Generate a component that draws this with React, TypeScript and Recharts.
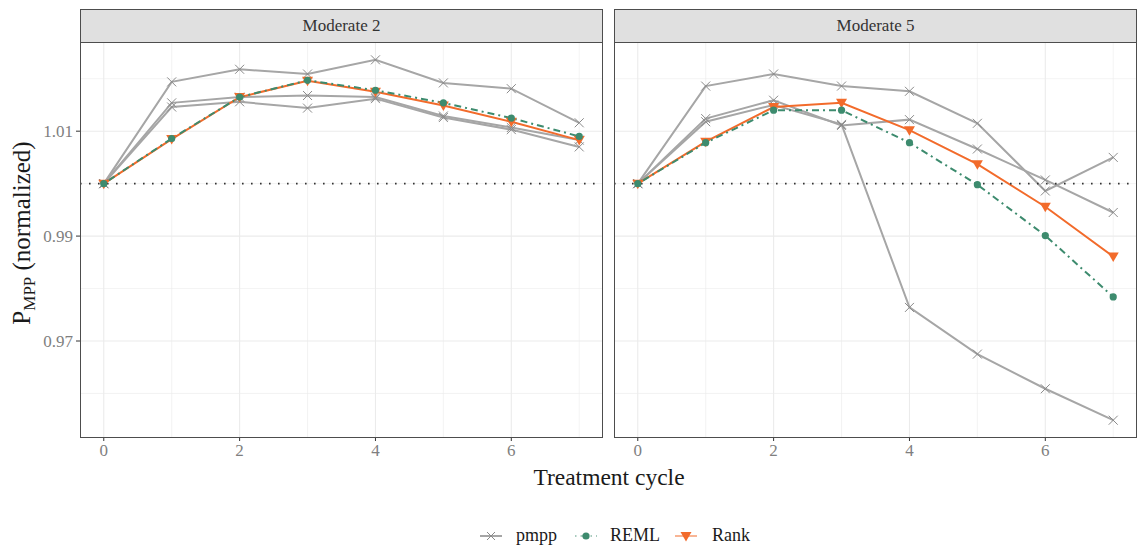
import React from "react";
import { LineChart, Line, XAxis, YAxis, ReferenceLine } from "recharts";

const cycles = [0, 1, 2, 3, 4, 5, 6, 7];
const panelTitles = ["Moderate 2", "Moderate 5"];
const xTicks = [0, 2, 4, 6];
const xMinor = [1, 3, 5, 7];
const yTicks = [0.97, 0.99, 1.01];
const yMinor = [0.96, 0.98, 1.0, 1.02];

const mod2Pmpp1 = [1.0, 1.0194, 1.0218, 1.0209, 1.0236, 1.0192, 1.0181, 1.0116];
const mod2Pmpp2 = [1.0, 1.0154, 1.0165, 1.0168, 1.0165, 1.0129, 1.0107, 1.0083];
const mod2Pmpp3 = [1.0, 1.0146, 1.0156, 1.0144, 1.0162, 1.0126, 1.0103, 1.007];
const mod2Reml = [1.0, 1.0086, 1.0165, 1.0197, 1.0178, 1.0154, 1.0125, 1.009];
const mod2Rank = [1.0, 1.0085, 1.0165, 1.0196, 1.0175, 1.0149, 1.0118, 1.0083];

const mod5Pmpp1 = [1.0, 1.0186, 1.0209, 1.0186, 1.0176, 1.0115, 0.9986, 1.005];
const mod5Pmpp2 = [1.0, 1.0124, 1.0159, 1.0111, 1.0122, 1.0066, 1.0007, 0.9945];
const mod5Pmpp3 = [1.0, 1.0118, 1.015, 1.0113, 0.9764, 0.9675, 0.9609, 0.9549];
const mod5Reml = [1.0, 1.0078, 1.014, 1.014, 1.0078, 0.9998, 0.9901, 0.9784];
const mod5Rank = [1.0, 1.008, 1.0146, 1.0154, 1.0102, 1.0037, 0.9956, 0.9861];

const FONT = "'Liberation Serif', serif";
const GRAY = "#a6a6a6";
const CROSS = "#8a8a8a";
const TEAL = "#3d8b6e";
const ORANGE = "#f26b2b";
const GRID = "#ebebeb";

const makeRows = (p1: number[], p2: number[], p3: number[], reml: number[], rank: number[]) =>
  cycles.map((c, i) => ({ x: c, p1: p1[i], p2: p2[i], p3: p3[i], reml: reml[i], rank: rank[i] }));

const panels = [
  makeRows(mod2Pmpp1, mod2Pmpp2, mod2Pmpp3, mod2Reml, mod2Rank),
  makeRows(mod5Pmpp1, mod5Pmpp2, mod5Pmpp3, mod5Reml, mod5Rank),
];

const CrossDot = (props: any) => {
  const { cx, cy, index } = props;
  const s = 4.5;
  return (
    <g key={`c-${index}`}>
      <line x1={cx - s} y1={cy - s} x2={cx + s} y2={cy + s} stroke={CROSS} strokeWidth={1} />
      <line x1={cx - s} y1={cy + s} x2={cx + s} y2={cy - s} stroke={CROSS} strokeWidth={1} />
    </g>
  );
};

const CircleDot = (props: any) => {
  const { cx, cy, index } = props;
  return <circle key={`r-${index}`} cx={cx} cy={cy} r={3.6} fill={TEAL} />;
};

const TriDot = (props: any) => {
  const { cx, cy, index } = props;
  return (
    <polygon
      key={`t-${index}`}
      points={`${cx - 5.5},${cy - 4} ${cx + 5.5},${cy - 4} ${cx},${cy + 5.5}`}
      fill={ORANGE}
    />
  );
};

const tickStyle = { fill: "#7f7f7f", fontSize: 17, fontFamily: FONT };

function Panel({ idx }: { idx: number }) {
  const first = idx === 0;
  const left = first ? 0 : 614;
  const yW = first ? 80 : 0;
  const width = first ? 604 : 523;
  return (
    <div style={{ position: "absolute", left, top: 0 }}>
      <LineChart
        width={width}
        height={470}
        data={panels[idx]}
        margin={{ top: 42, right: first ? 1 : 0, left: 0, bottom: 0 }}
      >
        <XAxis
          dataKey="x"
          type="number"
          domain={[-0.35, 7.35]}
          ticks={xTicks}
          axisLine={false}
          tickLine={{ stroke: "#333" }}
          tickSize={4}
          tick={tickStyle}
          height={33}
          tickMargin={3}
        />
        <YAxis
          type="number"
          domain={[0.9517, 1.027]}
          allowDataOverflow
          ticks={yTicks}
          hide={!first}
          width={yW}
          axisLine={false}
          tickLine={{ stroke: "#333" }}
          tickSize={4}
          tick={tickStyle}
          tickMargin={3}
          tickFormatter={(v: number) => v.toFixed(2)}
        />
        {yMinor.map((v) => (
          <ReferenceLine key={`ym-${v}`} y={v} stroke={GRID} strokeWidth={0.6} />
        ))}
        {xMinor.map((v) => (
          <ReferenceLine key={`xm-${v}`} x={v} stroke={GRID} strokeWidth={0.6} />
        ))}
        {yTicks.map((v) => (
          <ReferenceLine key={`y-${v}`} y={v} stroke={GRID} strokeWidth={1.1} />
        ))}
        {xTicks.map((v) => (
          <ReferenceLine key={`x-${v}`} x={v} stroke={GRID} strokeWidth={1.1} />
        ))}
        {["p1", "p2", "p3"].map((k) => (
          <Line
            key={k}
            dataKey={k}
            stroke={GRAY}
            strokeWidth={2}
            dot={CrossDot}
            activeDot={false}
            isAnimationActive={false}
          />
        ))}
        <Line dataKey="rank" stroke={ORANGE} strokeWidth={2} dot={TriDot} activeDot={false} isAnimationActive={false} />
        <Line
          dataKey="reml"
          stroke={TEAL}
          strokeWidth={2}
          strokeDasharray="2 4 7 4"
          dot={CircleDot}
          activeDot={false}
          isAnimationActive={false}
        />
        <ReferenceLine y={1.0} stroke="#333" strokeWidth={1.6} strokeDasharray="1.6 7.4" />
      </LineChart>
      <div
        style={{
          position: "absolute",
          left: yW,
          top: 42,
          width: 523,
          height: 396,
          border: "1px solid #4d4d4d",
          boxSizing: "border-box",
          pointerEvents: "none",
        }}
      />
      <div
        style={{
          position: "absolute",
          left: yW,
          top: 9,
          width: 523,
          height: 34,
          border: "1px solid #4d4d4d",
          boxSizing: "border-box",
          background: "#e0e0e0",
          color: "#333",
          fontFamily: FONT,
          fontSize: 17,
          lineHeight: "32px",
          textAlign: "center",
        }}
      >
        {panelTitles[idx]}
      </div>
    </div>
  );
}

export default function App() {
  return (
    <div
      style={{
        position: "fixed",
        left: 0,
        top: 0,
        width: 1137,
        height: 548,
        background: "#fff",
        overflow: "hidden",
      }}
    >
      <Panel idx={0} />
      <Panel idx={1} />
      <svg width={1137} height={548} style={{ position: "absolute", left: 0, top: 0, pointerEvents: "none" }}>
        <text
          transform="translate(30,233) rotate(-90)"
          textAnchor="middle"
          fontFamily={FONT}
          fontSize={25}
          fill="#1a1a1a"
        >
          <tspan>P</tspan>
          <tspan fontSize={17} dy={5}>MPP</tspan>
          <tspan dy={-5}> (normalized)</tspan>
        </text>
        <text x={609} y={485} textAnchor="middle" fontFamily={FONT} fontSize={23.5} fill="#1a1a1a">
          Treatment cycle
        </text>
        <g fontFamily={FONT} fontSize={18} fill="#1a1a1a">
          <line x1={480} y1={536} x2={502} y2={536} stroke={GRAY} strokeWidth={2} />
          <line x1={487} y1={532} x2={495} y2={540} stroke={CROSS} strokeWidth={1} />
          <line x1={487} y1={540} x2={495} y2={532} stroke={CROSS} strokeWidth={1} />
          <text x={516} y={541}>pmpp</text>
          <line x1={575} y1={536} x2={597} y2={536} stroke={TEAL} strokeOpacity={0.45} strokeWidth={2} strokeDasharray="1.5 4 6 4" />
          <circle cx={586} cy={536} r={3.6} fill={TEAL} />
          <text x={610} y={541}>REML</text>
          <line x1={675} y1={536} x2={697} y2={536} stroke={ORANGE} strokeOpacity={0.5} strokeWidth={2} />
          <polygon points="680.5,532 691.5,532 686,541.5" fill={ORANGE} />
          <text x={712} y={541}>Rank</text>
        </g>
      </svg>
    </div>
  );
}
